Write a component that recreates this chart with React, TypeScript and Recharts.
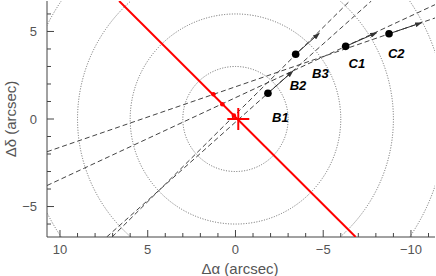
import { ScatterChart, Scatter, XAxis, YAxis, Label } from "recharts";

// chart frame
const W = 436;
const H = 276;
const MARGIN = { top: 1, right: 1, left: 0, bottom: 0 };
const Y_AXIS_W = 47;
const X_AXIS_H = 39;
const X_DOMAIN = [-11.37, 10.74];
const Y_DOMAIN = [-6.74, 6.74];

// ticks
const xTicks = [10, 9, 8, 7, 6, 5, 4, 3, 2, 1, 0, -1, -2, -3, -4, -5, -6, -7, -8, -9, -10, -11];
const yTicks = [6, 5, 4, 3, 2, 1, 0, -1, -2, -3, -4, -5, -6];
const majorValues = [10, 5, 0, -5, -10];
const majorLabels = ["10", "5", "0", "−5", "−10"];

// dotted rings (arcsec)
const ringRadii = [3, 6, 9, 12];

// knots and their motion vectors
const knotX = [-1.85, -3.43, -6.28, -8.75];
const knotY = [1.47, 3.7, 4.15, 4.87];
const tipX = [-3.28, -4.78, -8.05, -10.61];
const tipY = [2.74, 4.9, 4.93, 5.5];

// labels
const labelNames = ["B1", "B2", "B3", "C1", "C2"];
const labelX = [-2.56, -3.56, -4.84, -6.92, -9.16];
const labelY = [0.11, 1.94, 2.63, 3.2, 3.74];

// back-extrapolated tracks (dashed)
const trackX1 = [7.34, 7.03, 10.74, 10.74];
const trackY1 = [-6.74, -6.74, -3.8, -1.87];
const trackX2 = [-7.74, -6.51, -11.37, -11.37];
const trackY2 = [6.74, 6.74, 6.53, 5.77];

// jet axis (red)
const jetX = [6.63, -6.85];
const jetY = [6.74, -6.74];
const ejectX = [1.26, 0.75, 0.09];
const ejectY = [1.41, 0.84, 0.19];
const coreX = [-0.16];
const coreY = [0];

const KX = (W - MARGIN.left - MARGIN.right - Y_AXIS_W) / (X_DOMAIN[1] - X_DOMAIN[0]);
const KY = (H - MARGIN.top - MARGIN.bottom - X_AXIS_H) / (Y_DOMAIN[1] - Y_DOMAIN[0]);

const FONT = '"Liberation Sans", Arial, sans-serif';
const AXIS = "#444";
const TEXT = "#555";

const isMajor = (v: number) => majorValues.includes(v);
const labelFor = (v: number) => majorLabels[majorValues.indexOf(v)];

const Blank = () => <g />;

const BottomTick = ({ x, y, payload }: any) => {
  const v = payload.value;
  return (
    <g>
      <line x1={x} x2={x} y1={y} y2={y - (isMajor(v) ? 7 : 4)} stroke={AXIS} />
      {isMajor(v) && (
        <text x={x} y={y + 17} textAnchor="middle" fill={TEXT} fontSize={13} fontFamily={FONT}>
          {labelFor(v)}
        </text>
      )}
    </g>
  );
};

const TopTick = ({ x, y, payload }: any) => (
  <line x1={x} x2={x} y1={y} y2={y + (isMajor(payload.value) ? 7 : 4)} stroke={AXIS} />
);

const LeftTick = ({ x, y, payload }: any) => {
  const v = payload.value;
  return (
    <g>
      <line x1={x} x2={x + (isMajor(v) ? 7 : 4)} y1={y} y2={y} stroke={AXIS} />
      {isMajor(v) && (
        <text x={x - 10} y={y} dy="0.36em" textAnchor="end" fill={TEXT} fontSize={13} fontFamily={FONT}>
          {labelFor(v)}
        </text>
      )}
    </g>
  );
};

const RightTick = ({ x, y, payload }: any) => (
  <line x1={x} x2={x - (isMajor(payload.value) ? 7 : 4)} y1={y} y2={y} stroke={AXIS} />
);

const Ring = (p: any) => (
  <ellipse
    cx={p.cx}
    cy={p.cy}
    rx={p.payload.r * KX}
    ry={p.payload.r * KY}
    fill="none"
    stroke="#666"
    strokeDasharray="1 1.6"
  />
);

const Knot = (p: any) => <circle cx={p.cx} cy={p.cy} r={3.8} fill="#000" />;
const RedDot = (p: any) => <circle cx={p.cx} cy={p.cy} r={2.3} fill="#f00" />;
const Cross = (p: any) => (
  <g stroke="#f00" strokeWidth={2}>
    <line x1={p.cx - 11} x2={p.cx + 11} y1={p.cy} y2={p.cy} />
    <line x1={p.cx} x2={p.cx} y1={p.cy - 11} y2={p.cy + 11} />
  </g>
);
const KnotLabel = (p: any) => (
  <text
    x={p.cx}
    y={p.cy}
    dy="0.36em"
    textAnchor="middle"
    fontSize={13}
    fontWeight="bold"
    fontStyle="italic"
    fontFamily={FONT}
    fill="#000"
  >
    {p.payload.name}
  </text>
);

const rings = ringRadii.map((r) => ({ x: 0, y: 0, r }));
const tracks = trackX1.map((_, i) => [
  { x: trackX1[i], y: trackY1[i] },
  { x: trackX2[i], y: trackY2[i] },
]);
const arrows = knotX.map((_, i) => [
  { x: knotX[i], y: knotY[i] },
  { x: tipX[i], y: tipY[i] },
]);
const knots = knotX.map((x, i) => ({ x, y: knotY[i] }));
const labels = labelNames.map((name, i) => ({ x: labelX[i], y: labelY[i], name }));
const jet = jetX.map((x, i) => ({ x, y: jetY[i] }));
const ejections = ejectX.map((x, i) => ({ x, y: ejectY[i] }));
const core = coreX.map((x, i) => ({ x, y: coreY[i] }));

export default function App() {
  return (
    <div style={{ position: "absolute", left: 0, top: 0, width: W, height: H, background: "#fff" }}>
      <svg width={0} height={0} style={{ position: "absolute" }}>
        <defs>
          <marker
            id="arrowHead"
            viewBox="0 0 7 5"
            refX={6.5}
            refY={2.5}
            markerWidth={7}
            markerHeight={5}
            markerUnits="userSpaceOnUse"
            orient="auto"
          >
            <path d="M0,0L7,2.5L0,5z" fill="#333" />
          </marker>
        </defs>
      </svg>
      <ScatterChart width={W} height={H} margin={MARGIN}>
        <XAxis
          type="number"
          dataKey="x"
          domain={X_DOMAIN}
          reversed
          allowDataOverflow
          ticks={xTicks}
          interval={0}
          height={X_AXIS_H}
          tickSize={0}
          tickMargin={0}
          tickLine={false}
          tick={<BottomTick />}
          axisLine={{ stroke: AXIS }}
        >
          <Label
            content={({ viewBox }: any) => (
              <text
                x={viewBox.x + viewBox.width / 2 - 1}
                y={viewBox.y + 32}
                dy="0.36em"
                textAnchor="middle"
                fill={TEXT}
                fontSize={15}
                fontFamily={FONT}
              >
                Δα (arcsec)
              </text>
            )}
          />
        </XAxis>
        <XAxis
          xAxisId="top"
          orientation="top"
          type="number"
          domain={X_DOMAIN}
          reversed
          allowDataOverflow
          ticks={xTicks}
          interval={0}
          height={0}
          tickSize={0}
          tickMargin={0}
          tickLine={false}
          tick={<TopTick />}
          axisLine={{ stroke: AXIS }}
        />
        <YAxis
          type="number"
          dataKey="y"
          domain={Y_DOMAIN}
          allowDataOverflow
          ticks={yTicks}
          interval={0}
          width={Y_AXIS_W}
          tickSize={0}
          tickMargin={0}
          tickLine={false}
          tick={<LeftTick />}
          axisLine={{ stroke: AXIS }}
        >
          <Label
            content={({ viewBox }: any) => {
              const cx = viewBox.x + 11;
              const cy = viewBox.y + viewBox.height / 2;
              return (
                <text
                  x={cx}
                  y={cy}
                  dy="0.36em"
                  textAnchor="middle"
                  transform={`rotate(-90 ${cx} ${cy})`}
                  fill={TEXT}
                  fontSize={15}
                  fontFamily={FONT}
                >
                  Δδ (arcsec)
                </text>
              );
            }}
          />
        </YAxis>
        <YAxis
          yAxisId="right"
          orientation="right"
          type="number"
          domain={Y_DOMAIN}
          allowDataOverflow
          ticks={yTicks}
          interval={0}
          width={0}
          tickSize={0}
          tickMargin={0}
          tickLine={false}
          tick={<RightTick />}
          axisLine={{ stroke: AXIS }}
        />

        <Scatter data={rings} shape={Ring} isAnimationActive={false} />

        {tracks.map((d, i) => (
          <Scatter
            key={`track-${i}`}
            data={d}
            shape={Blank}
            line={{ stroke: "#444", strokeWidth: 1, strokeDasharray: "5 3" }}
            isAnimationActive={false}
          />
        ))}

        {arrows.map((d, i) => (
          <Scatter
            key={`arrow-${i}`}
            data={d}
            shape={Blank}
            line={{ stroke: "#333", strokeWidth: 1, markerEnd: "url(#arrowHead)" }}
            isAnimationActive={false}
          />
        ))}

        <Scatter data={jet} shape={Blank} line={{ stroke: "#f00", strokeWidth: 2 }} isAnimationActive={false} />
        <Scatter data={ejections} shape={RedDot} isAnimationActive={false} />
        <Scatter data={core} shape={Cross} isAnimationActive={false} />
        <Scatter data={knots} shape={Knot} isAnimationActive={false} />
        <Scatter data={labels} shape={KnotLabel} isAnimationActive={false} />
      </ScatterChart>
    </div>
  );
}
